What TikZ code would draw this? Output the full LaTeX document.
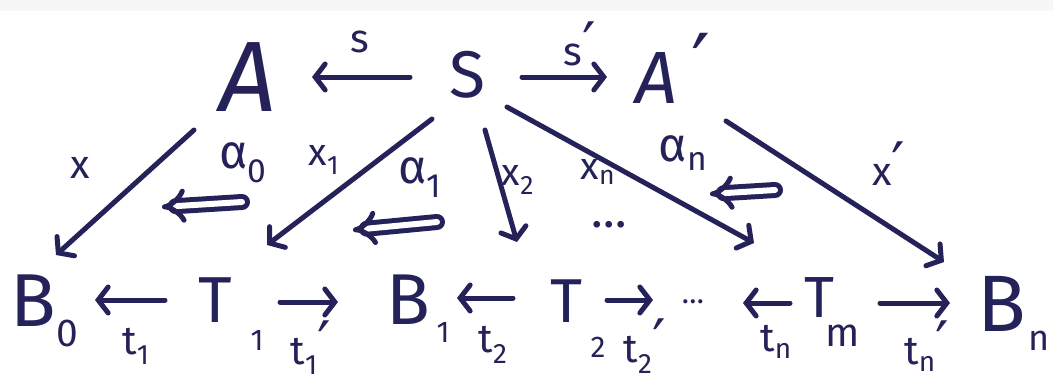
\documentclass[tikz,border=0pt]{standalone}
\usepackage{fontspec}
\setmainfont{Fira Sans}
\newfontfamily\symf{DejaVu Sans}
\newcommand\pr{{\symf\scalebox{1.5}{′}}}
\usetikzlibrary{arrows.meta}
\definecolor{ink}{RGB}{36,34,88}
\begin{document}
\begin{tikzpicture}[x=1pt,y=-1pt,
  every node/.style={inner sep=0pt,text=ink},
  sz/.style={font=\fontsize{#1}{#1}\selectfont},
  arr/.style={draw=ink,line width=5pt,line cap=round,
    -{Straight Barb[length=10pt,width=26pt,line cap=round]}},
  dbl/.style={draw=ink,line width=5pt,double=white,double distance=6pt,
    line cap=round,-{Implies[scale=1.3]}}]
\useasboundingbox (0,0) rectangle (1053,381);
\fill[white] (0,0) rectangle (1053,381);
\fill[black!3] (0,0) rectangle (1053,11);
% top row
\node[sz=100] (A) at (248,77) {\itshape A};
\node[sz=66] (S) at (467,75) {S};
\node[sz=74] (Ap) at (656,78) {\itshape A};
\node[sz=56] (App) at (701,64) {\pr};
\draw[arr] ([shift={(-57,2)}]S.center) -- ([shift={(64,0)}]A.center);
\draw[arr] ([shift={(55,2)}]S.center) -- ([shift={(-49,-1)}]Ap.center);
\node[sz=40] (ls) at (360,42) {s};
\node[sz=40] (lsp) at (580,44) {s\pr};
% bottom row
\node[sz=75] (B0) at (33,301) {B};
\node[sz=39] (B0s) at (67,333) {0};
\node[sz=65] (T1) at (215,300) {T};
\node[sz=30] (T1s) at (257,340) {1};
\node[sz=72] (B1) at (408,300) {B};
\node[sz=30] (B1s) at (443,332) {1};
\node[sz=62] (T2) at (567,301) {T};
\node[sz=30] (T2s) at (598,347) {2};
\node[sz=30] (dots) at (693,302) {…};
\node[sz=58] (Tm) at (819,298) {T};
\node[sz=40] (Tms) at (843,336) {m};
\node[sz=80] (Bn) at (1002,304) {B};
\node[sz=36] (Bns) at (1039,341) {n};
\draw[arr] ([shift={(-50,0)}]T1.center) -- ([shift={(62,-1)}]B0.center);
\draw[arr] ([shift={(65,2)}]T1.center) -- ([shift={(-70,2)}]B1.center);
\draw[arr] ([shift={(-54,-3)}]T2.center) -- ([shift={(49,-2)}]B1.center);
\draw[arr] ([shift={(40,-1)}]T2.center) -- ([shift={(-40,-2)}]dots.center);
\draw[arr] ([shift={(-29,5)}]Tm.center) -- ([shift={(50,1)}]dots.center);
\draw[arr] ([shift={(61,5)}]Tm.center) -- ([shift={(-52,-1)}]Bn.center);
\node[sz=40] (lt1) at (136,346) {t\textsubscript{1}};
\node[sz=40] (lt1p) at (311,348) {t\textsubscript{1}\pr};
\node[sz=40] (lt2) at (493,345) {t\textsubscript{2}};
\node[sz=40] (lt2p) at (645,346) {t\textsubscript{2}\pr};
\node[sz=40] (ltn) at (776,342) {t\textsubscript{n}};
\node[sz=40] (ltnp) at (927,346) {t\textsubscript{n}\pr};
% diagonals
\draw[arr] ([shift={(-54,53)}]A.center) -- ([shift={(23,-46)}]B0.center);
\draw[arr] ([shift={(-35,44)}]S.center) -- ([shift={(52,-55)}]T1.center);
\draw[arr] ([shift={(18,55)}]S.center) -- ([shift={(-50,-59)}]T2.center);
\draw[arr] ([shift={(40,32)}]S.center) -- ([shift={(-65,-55)}]Tm.center);
\draw[arr] ([shift={(70,43)}]Ap.center) -- ([shift={(-58,-42)}]Bn.center);
\node[sz=40] (lx) at (80,168) {x};
\node[sz=38] (lx1) at (324,160) {x\textsubscript{1}};
\node[sz=38] (lx2) at (518,180) {x\textsubscript{2}};
\node[sz=38] (lxn) at (598,172) {x\textsubscript{n}};
\node[sz=48] (ldots) at (609,225) {…};
\node[sz=40] (lxp) at (889,164) {x\pr};
\node[sz=48] (la0) at (243,163) {α\textsubscript{0}};
\node[sz=48] (la1) at (420,178) {α\textsubscript{1}};
\node[sz=48] (lan) at (683,153) {α\textsubscript{n}};
% 2-cells
\coordinate (a0t) at (242,202); \coordinate (a0h) at (162,207);
\coordinate (a1t) at (437,222); \coordinate (a1h) at (353,230);
\coordinate (ant) at (775,190); \coordinate (anh) at (710,194);
\draw[dbl] (a0t) -- (a0h);
\draw[dbl] (a1t) -- (a1h);
\draw[dbl] (ant) -- (anh);
\end{tikzpicture}
\end{document}
